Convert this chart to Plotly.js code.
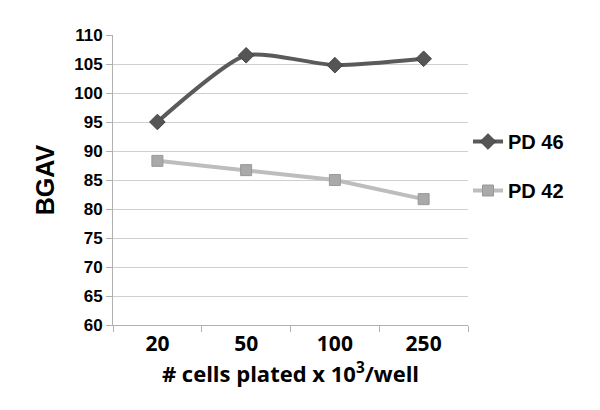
<!DOCTYPE html>
<html>
<head>
<meta charset="utf-8">
<script src="https://cdn.plot.ly/plotly-3.0.1.min.js"></script>
<style>body{margin:0;background:#fff}#chart{width:600px;height:410px}</style>
</head>
<body>
<div id="chart"></div>
<script>
var categories = ["20", "50", "100", "250"];
var pd46 = [95.0, 106.5, 104.8, 105.9];
var pd42 = [88.3, 86.7, 85.0, 81.7];
var yTicks = [60, 65, 70, 75, 80, 85, 90, 95, 100, 105, 110];

var traces = [
  {
    x: categories, y: pd46, name: "PD 46", type: "scatter", mode: "lines+markers",
    line: {color: "#5a5a5a", width: 4, shape: "spline", smoothing: 0.6},
    marker: {symbol: "diamond", size: 12, color: "#555555", line: {color: "#444", width: 1}},
    legendgroup: "a"
  },
  {
    x: categories, y: pd42, name: "PD 42", type: "scatter", mode: "lines+markers",
    line: {color: "#bdbdbd", width: 4},
    marker: {symbol: "square", size: 11, color: "#a9a9a9", line: {color: "#999", width: 1}},
    legendgroup: "b"
  }
];

var layout = {
  width: 600, height: 410,
  margin: {l: 113, r: 132, t: 35, b: 85},
  paper_bgcolor: "#ffffff", plot_bgcolor: "#ffffff",
  showlegend: true,
  legend: {
    x: 1.0, xanchor: "left", y: 0.70, yanchor: "top",
    font: {family: "Liberation Sans, Arial, sans-serif", size: 20, color: "#000", weight: 700},
    traceorder: "grouped", tracegroupgap: 20, itemwidth: 30
  },
  xaxis: {
    type: "category", range: [-0.5, 3.5],
    tickvals: categories, ticktext: categories.map(function (c) { return "<b>" + c + "</b>"; }),
    tickfont: {family: "Open Sans, sans-serif", size: 21, color: "#000", weight: 700},
    showline: true, linecolor: "#b0b0b0", linewidth: 1,
    ticks: "outside", tickson: "boundaries", ticklen: 6, tickcolor: "#b0b0b0",
    showgrid: false, zeroline: false,
    title: {text: "<b># cells plated x 10<sup>3</sup>/well</b>", font: {family: "Open Sans, sans-serif", size: 22, color: "#000", weight: 700}, standoff: 10}
  },
  yaxis: {
    range: [60, 110], tickvals: yTicks,
    ticktext: yTicks.map(function (v) { return "<b>" + v + "</b>"; }),
    tickfont: {family: "Liberation Sans, Arial, sans-serif", size: 17, color: "#000", weight: 700},
    showline: true, linecolor: "#b0b0b0", linewidth: 1,
    ticks: "outside", ticklen: 6, tickcolor: "#b0b0b0",
    showgrid: true, gridcolor: "#cfcfcf", gridwidth: 1, zeroline: false,
    title: {text: "BGAV", font: {family: "Liberation Sans, Arial, sans-serif", size: 25, color: "#000", weight: 700}, standoff: 12}
  }
};

Plotly.newPlot("chart", traces, layout, {displayModeBar: false, staticPlot: true});
</script>
</body>
</html>
